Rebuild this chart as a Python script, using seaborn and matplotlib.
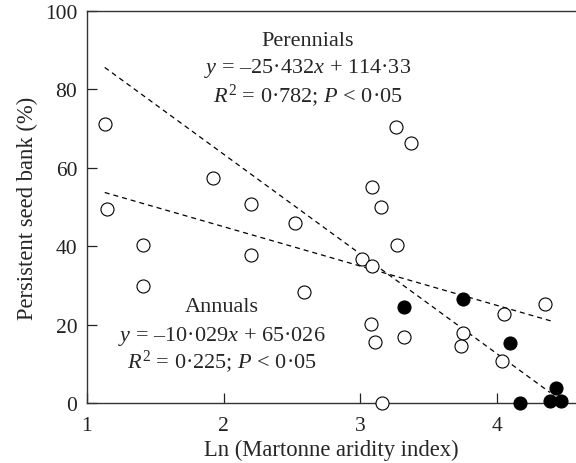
import numpy as np
import pandas as pd
import seaborn as sns
import matplotlib.pyplot as plt

# data
open_x = [1.13, 1.15, 1.41, 1.41, 1.92, 2.20, 2.20, 2.52, 2.59, 3.01, 3.09, 3.08, 3.11,
          3.09, 3.15, 3.16, 3.26, 3.37, 3.27, 3.32, 3.75, 3.74, 4.05, 4.04, 4.35]
open_y = [71.2, 49.5, 40.4, 29.9, 57.4, 50.8, 37.8, 46.0, 28.2, 36.7, 35.0, 20.2, 15.5,
          55.0, 50.1, 0.0, 70.5, 66.4, 40.2, 16.9, 17.8, 14.6, 22.7, 10.8, 25.3]
filled_x = [3.32, 3.75, 4.10, 4.17, 4.39, 4.43, 4.47]
filled_y = [24.4, 26.5, 15.2, 0.0, 0.4, 3.7, 0.4]

# fitted lines as printed on the chart
fit_names = ["Perennials", "Annuals"]
fit_slope = [-25.432, -10.029]
fit_icept = [114.33, 65.026]
fit_xmin = [1.13, 1.13]
fit_xmax = [4.39, 4.41]

sns.set_style("ticks")
plt.rcParams["font.family"] = ["Liberation Serif", "DejaVu Serif"]
plt.rcParams["mathtext.fontset"] = "custom"
plt.rcParams["mathtext.rm"] = "Liberation Serif"
plt.rcParams["mathtext.it"] = "Liberation Serif:italic"

fig = plt.figure(figsize=(5.76, 4.64), dpi=100)
ax = fig.add_axes([0.151, 0.1293, 0.849, 0.845])

# regression lines
rows = []
for n, m, b, x0, x1 in zip(fit_names, fit_slope, fit_icept, fit_xmin, fit_xmax):
    for xx in (x0, x1):
        rows.append({"group": n, "x": xx, "y": m * xx + b})
lines = pd.DataFrame(rows)
for n in fit_names:
    d = lines[lines["group"] == n]
    sns.lineplot(data=d, x="x", y="y", ax=ax, color="black", lw=0.9,
                 dashes=False, linestyle=(0, (4, 3.2)))

pts_open = pd.DataFrame({"x": open_x, "y": open_y})
pts_fill = pd.DataFrame({"x": filled_x, "y": filled_y})
sns.scatterplot(data=pts_open, x="x", y="y", ax=ax, s=88, facecolor="white",
                edgecolor="black", linewidth=0.8, clip_on=False, zorder=3)
sns.scatterplot(data=pts_fill, x="x", y="y", ax=ax, s=88, facecolor="black",
                edgecolor="black", linewidth=0.8, clip_on=False, zorder=3)

ax.set_xlim(1, 4.58)
ax.set_ylim(0, 100)
ax.set_xticks([1, 2, 3, 4])
ax.set_yticks([0, 20, 40, 60, 80, 100])
ax.tick_params(direction="in", length=7, width=0.9, labelsize=15.5, pad=7, colors="#222222")
ax.tick_params(axis="x", pad=9)
for s in ["left", "bottom", "top"]:
    ax.spines[s].set_linewidth(1.0)
    ax.spines[s].set_color("#333333")
ax.spines["right"].set_visible(False)

ax.set_xlabel("Ln (Martonne aridity index)", fontsize=16.3, labelpad=3)
ax.set_ylabel("Persistent seed bank (%)", fontsize=16.3, labelpad=5)

fs = 16
ax.text(2.614, 92.4, "Perennials", ha="center", va="center", fontsize=fs)
ax.text(2.614, 85.5, "$y$ = –25·432$x$ + 114·33", ha="center", va="center", fontsize=fs)
ax.text(2.614, 78.6, "$R^2$ = 0·782; $P$ < 0·05", ha="center", va="center", fontsize=fs)
ax.text(1.988, 24.5, "Annuals", ha="center", va="center", fontsize=fs)
ax.text(1.988, 17.3, "$y$ = –10·029$x$ + 65·026", ha="center", va="center", fontsize=fs)
ax.text(1.988, 10.7, "$R^2$ = 0·225; $P$ < 0·05", ha="center", va="center", fontsize=fs)

fig.savefig("out.png", dpi=100)
